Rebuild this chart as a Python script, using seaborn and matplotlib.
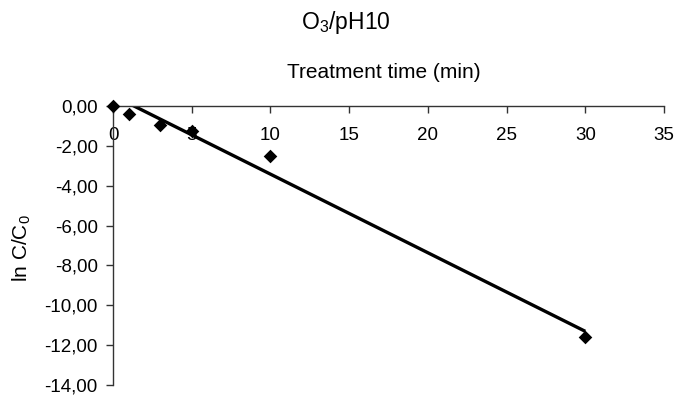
import matplotlib
matplotlib.use("Agg")
import matplotlib.pyplot as plt
import seaborn as sns
import pandas as pd
import numpy as np

# Data
time_min = [0, 1, 3, 5, 10, 30]
ln_c_c0 = [0.0, -0.40, -0.95, -1.25, -2.50, -11.60]
x_ticks = [0, 5, 10, 15, 20, 25, 30, 35]
y_ticks = [0, -2, -4, -6, -8, -10, -12, -14]
y_tick_labels = ["0,00", "-2,00", "-4,00", "-6,00", "-8,00", "-10,00", "-12,00", "-14,00"]
title = "O$_3$/pH10"
x_label = "Treatment time (min)"
y_label = "ln C/C$_0$"

df = pd.DataFrame({"t": time_min, "lnC": ln_c_c0})
fit_df = df[df["t"] >= 1]

sns.set_theme(style="white")
plt.rcParams["font.family"] = ["Liberation Sans", "DejaVu Sans"]
plt.rcParams["mathtext.fontset"] = "custom"
plt.rcParams["mathtext.rm"] = "Liberation Sans"
plt.rcParams["mathtext.it"] = "Liberation Sans"
plt.rcParams["text.color"] = "black"

fig = plt.figure(figsize=(6.81, 3.95), dpi=100)
ax = fig.add_axes([113 / 681, 1 - 385 / 395, (664 - 113) / 681, (385 - 106) / 395])

sns.regplot(data=fit_df, x="t", y="lnC", ax=ax, scatter=False, ci=None, truncate=True,
            line_kws={"color": "black", "linewidth": 2.4, "solid_capstyle": "butt"})
sns.scatterplot(data=df, x="t", y="lnC", ax=ax, marker="D", s=48, color="black",
                edgecolor="black", linewidth=0, zorder=5, clip_on=False)

ax.set_xlim(0, 35)
ax.set_ylim(-14, 0)
ax.set_xticks(x_ticks)
ax.set_yticks(y_ticks)
ax.set_yticklabels(y_tick_labels)
ax.set_xlabel("")
ax.set_ylabel("")

for s in ["right", "top"]:
    ax.spines[s].set_visible(False)
ax.spines["bottom"].set_position(("data", 0))
for s in ["left", "bottom"]:
    ax.spines[s].set_color("#333333")
    ax.spines[s].set_linewidth(1.0)

ax.tick_params(axis="x", direction="out", length=5, width=1, color="#333333",
               pad=10, labelsize=13.5, labelcolor="black", bottom=True)
ax.tick_params(axis="y", direction="out", length=5, width=1, color="#333333",
               pad=6, labelsize=13.5, labelcolor="black", left=True)

fig.text(346 / 681, 1 - 22 / 395, title, ha="center", va="center", fontsize=16.5, color="black")
fig.text(384 / 681, 1 - 73 / 395, x_label, ha="center", va="center", fontsize=15, color="black")
fig.text(22 / 681, 1 - 248 / 395, y_label, ha="center", va="center", rotation=90,
         fontsize=15, color="black")

fig.savefig("out.png", dpi=100)
